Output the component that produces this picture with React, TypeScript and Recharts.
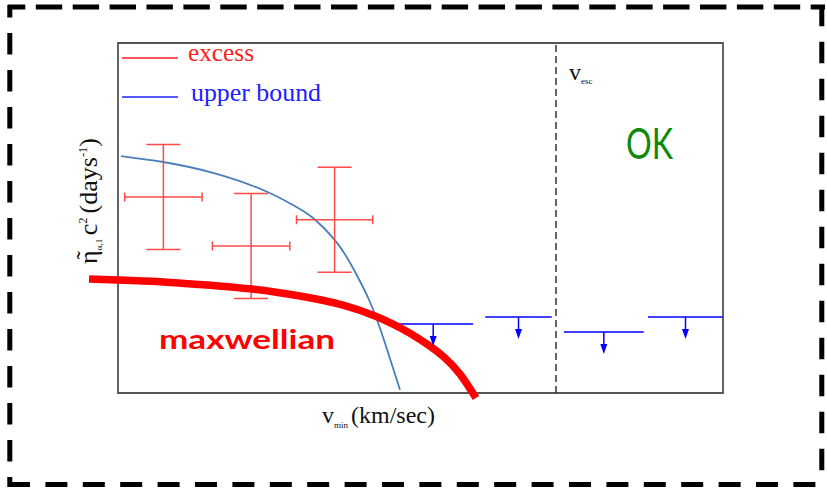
import React from 'react';
import {
  ComposedChart,
  Line,
  Scatter,
  XAxis,
  YAxis,
  ErrorBar,
  ReferenceArea,
  ReferenceLine,
  Customized,
} from 'recharts';

// v_min runs 0..1000 across the frame, η̃c² runs 0..100 up the frame (arbitrary units)

// measured excess: bin centres, half widths, rates and their errors
const excessV = [75, 220, 358];
const excessVErr = [64, 64, 63];
const excessEta = [56, 42, 49.5];
const excessEtaErr = [15, 15, 15];

// upper bounds: bin edges and limit
const boundLo = [455, 607, 737, 876];
const boundHi = [587, 717, 869, 1000];
const boundEta = [19.7, 21.7, 17.4, 21.7];

// fitted upper-bound curve
const fitV = [5, 74.4, 157, 239.7, 289.3, 322.3, 362, 388.4, 416.5, 441.3, 466.1];
const fitEta = [67.7, 66.0, 62.9, 58.0, 53.7, 50.0, 42.9, 35.7, 26.0, 14.3, 0.9];

// maxwellian halo prediction
const maxwV = [-47.9, 0, 69.4, 135.5, 221.5, 300.8, 371.9, 424.8, 454.5, 482.6, 515.7, 540.5, 565.3, 591.7];
const maxwEta = [32.6, 32.3, 31.8, 31.0, 29.7, 27.7, 25.1, 22.0, 19.7, 17.1, 13.4, 10.0, 5.4, -1.4];

// escape velocity
const vEsc = 724;

const legendLabels = ['excess', 'upper bound'];
const legendColors = ['#ff2020', '#2020ff'];

const excessData = excessV.map((x, i) => ({
  x,
  y: excessEta[i],
  ex: excessVErr[i],
  ey: excessEtaErr[i],
}));

const boundData = boundLo.map((lo, i) => ({
  x: (lo + boundHi[i]) / 2,
  y: boundEta[i],
  ex: (boundHi[i] - lo) / 2,
}));

const fitData = fitV.map((x, i) => ({ x, y: fitEta[i] }));
const maxwData = maxwV.map((x, i) => ({ x, y: maxwEta[i] }));

const serif = '"Liberation Serif", "Times New Roman", serif';
const sans = 'Lato, "Noto Sans", sans-serif';

const W = 827;
const H = 491;

const Arrow = (props: any) => {
  const { cx, cy } = props;
  if (cx == null || cy == null) return <g />;
  const len = 22;
  return (
    <g>
      <line x1={cx} y1={cy} x2={cx} y2={cy + len - 8} stroke="#0000ff" strokeWidth={1.5} />
      <polygon
        points={`${cx - 3.5},${cy + len - 10} ${cx + 3.5},${cy + len - 10} ${cx},${cy + len}`}
        fill="#0000ff"
      />
    </g>
  );
};

const Decorations = () => (
  <g>
    {/* dashed outer frame */}
    <g stroke="#000" strokeWidth={5} fill="none">
      <line x1={8} y1={7} x2={825} y2={7} strokeDasharray="26.4 10.5" strokeDashoffset={9.1} />
      <line x1={8} y1={484.5} x2={816} y2={484.5} strokeDasharray="22 15.4" />
      <line x1={9.8} y1={5} x2={9.8} y2={487} strokeDasharray="21.6 15.4" strokeDashoffset={9} />
      <line x1={821.8} y1={5} x2={821.8} y2={472} strokeDasharray="21.6 15.4" strokeDashoffset={0.3} />
    </g>

    {/* legend */}
    {legendLabels.map((label, i) => (
      <g key={label}>
        <line
          x1={122}
          x2={178}
          y1={58 + i * 39}
          y2={58 + i * 39}
          stroke={legendColors[i]}
          strokeWidth={1.5}
        />
        <text
          x={i === 0 ? 188 : 191}
          y={61 + i * 40}
          fontFamily={serif}
          fontSize={25}
          fill={legendColors[i]}
          textLength={i === 0 ? 66 : 130}
          lengthAdjust="spacingAndGlyphs"
        >
          {label}
        </text>
      </g>
    ))}

    {/* axis titles */}
    <g transform="translate(97,264) rotate(-90)" fontFamily={serif} fill="#111">
      <text x={9} y={-3} fontSize={25} textAnchor="middle">
        ˜
      </text>
      <text x={0} y={0} fontSize={25} textLength={126} lengthAdjust="spacingAndGlyphs">
        <tspan>η</tspan>
        <tspan fontSize={9} dy={5}>α,1</tspan>
        <tspan dx={3} dy={-5}>c</tspan>
        <tspan fontSize={12} dy={-10}>2</tspan>
        <tspan dx={4} dy={10}>(days</tspan>
        <tspan fontSize={12} dy={-10}>-1</tspan>
        <tspan dy={10}>)</tspan>
      </text>
    </g>
    <text x={322} y={423} fontFamily={serif} fontSize={24} fill="#111">
      <tspan>v</tspan>
      <tspan fontSize={9} dy={5}>min</tspan>
      <tspan dx={3} dy={-5}>(km/sec)</tspan>
    </text>

    {/* escape velocity tag */}
    <text x={569} y={80} fontFamily={serif} fontSize={24} fill="#111">
      <tspan>v</tspan>
      <tspan fontSize={9} dy={4}>esc</tspan>
    </text>

    <text
      x={626}
      y={159}
      fontFamily={sans}
      fontSize={42}
      fill="#0b8a0b"
      textLength={47}
      lengthAdjust="spacingAndGlyphs"
    >
      OK
    </text>
    <text
      x={159}
      y={349}
      fontFamily={sans}
      fontWeight="bold"
      fontSize={26}
      fill="#ff0000"
      textLength={176}
      lengthAdjust="spacingAndGlyphs"
    >
      maxwellian
    </text>
  </g>
);

export default function App() {
  return (
    <div style={{ position: 'absolute', left: 0, top: 0, width: W, height: H, background: '#fff' }}>
      <ComposedChart
        width={W}
        height={H}
        margin={{ top: 8, right: 43.5, bottom: 63, left: 57.5 }}
      >
        <XAxis type="number" dataKey="x" domain={[-100, 1100]} hide />
        <YAxis type="number" dataKey="y" domain={[-10, 110]} hide />

        <ReferenceArea
          x1={0}
          x2={1000}
          y1={0}
          y2={100}
          fill="none"
          fillOpacity={0}
          stroke="#555"
          strokeWidth={1.8}
          ifOverflow="visible"
        />
        <ReferenceLine
          segment={[
            { x: vEsc, y: 0 },
            { x: vEsc, y: 100 },
          ]}
          stroke="#333"
          strokeWidth={1.5}
          strokeDasharray="7 4"
        />

        <Line
          data={fitData}
          dataKey="y"
          type="natural"
          stroke="#4a7ebb"
          strokeWidth={1.8}
          dot={false}
          isAnimationActive={false}
        />

        <Scatter data={excessData} shape={() => <g />} isAnimationActive={false}>
          <ErrorBar dataKey="ey" direction="y" width={17} stroke="#ff4a4a" strokeWidth={1.5} />
          <ErrorBar dataKey="ex" direction="x" width={4.5} stroke="#ff4a4a" strokeWidth={1.5} />
        </Scatter>

        <Scatter data={boundData} shape={Arrow} isAnimationActive={false}>
          <ErrorBar dataKey="ex" direction="x" width={0} stroke="#0000ff" strokeWidth={1.5} />
        </Scatter>

        <Line
          data={maxwData}
          dataKey="y"
          type="natural"
          stroke="#ff0000"
          strokeWidth={7.5}
          dot={false}
          isAnimationActive={false}
        />

        <Customized component={<Decorations />} />
      </ComposedChart>
    </div>
  );
}
